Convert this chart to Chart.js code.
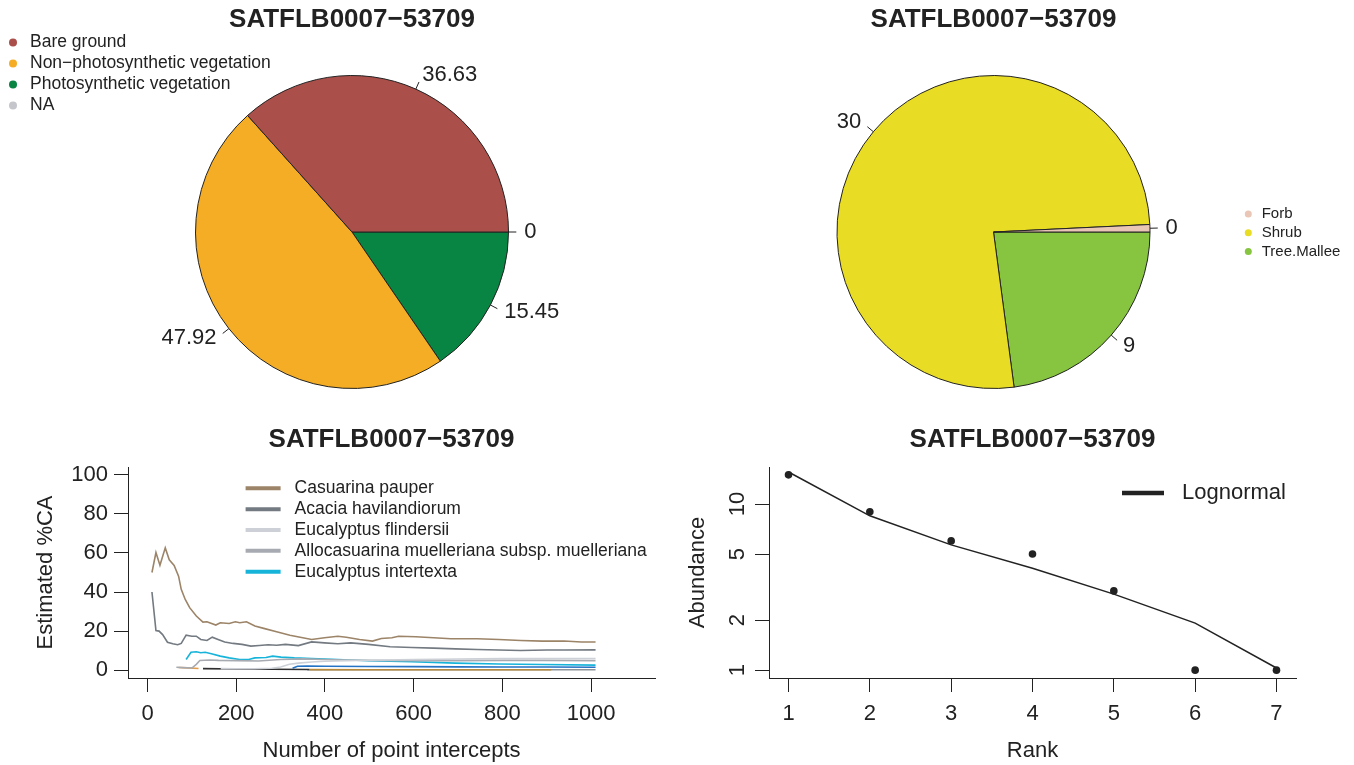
<!DOCTYPE html>
<html>
<head>
<meta charset="utf-8">
<title>SATFLB0007-53709</title>
<script src="https://cdn.jsdelivr.net/npm/chart.js@4.4.1/dist/chart.umd.min.js"></script>
<style>
  body { margin: 0; background: #fff; }
  #wrap { position: relative; width: 1354px; height: 765px; }
  #wrap canvas { position: absolute; }
</style>
</head>
<body>
<div id="wrap">
  <canvas id="coverPie" width="677" height="400" style="left:0;top:0"></canvas>
  <canvas id="formPie" width="677" height="400" style="left:677px;top:0"></canvas>
  <canvas id="accum" width="677" height="365" style="left:0;top:400px"></canvas>
  <canvas id="rad" width="677" height="365" style="left:677px;top:400px"></canvas>
</div>
<script>
const siteName = "SATFLB0007\u221253709";

// fractional cover (top left)
const coverLabels = ["Bare ground", "Non\u2212photosynthetic vegetation", "Photosynthetic vegetation", "NA"];
const coverValues = [36.63, 47.92, 15.45, 0];
const coverColors = ["#ab4f4a", "#f5ad25", "#088443", "#c4c6cb"];

// growth forms (top right)
const formLabels = ["Forb", "Shrub", "Tree.Mallee"];
const formValues = [0.3, 30, 9];
const formColors = ["#e9c6b6", "#e9dc24", "#87c541"];

// species accumulation (bottom left)
const pointTicks = [0, 200, 400, 600, 800, 1000];
const caTicks = [0, 20, 40, 60, 80, 100];
const speciesNames = ["Casuarina pauper", "Acacia havilandiorum", "Eucalyptus flindersii",
  "Allocasuarina muelleriana subsp. muelleriana", "Eucalyptus intertexta"];
const speciesColors = ["#9c8468", "#737a81", "#cdd1d7", "#a7abb1", "#17b4da"];

const casuarinaX = [10, 19, 28, 40, 49, 60, 70, 76, 85, 95, 110, 125, 134, 154, 164, 184, 198, 208, 223, 242, 262, 291, 321, 350, 370, 399, 429, 448, 478, 507, 527, 551, 566, 605, 645, 684, 743, 792, 841, 890, 939, 978, 1010];
const casuarinaY = [50, 60.2, 53.7, 62.6, 56.5, 53.6, 48.1, 41.4, 36.2, 32, 27.7, 24.6, 24.8, 23.1, 24.3, 23.9, 24.8, 24.3, 24.8, 22.6, 21.4, 19.7, 17.9, 16.6, 15.7, 16.6, 17.4, 16.9, 15.7, 14.9, 16.2, 16.6, 17.4, 17.1, 16.6, 16.1, 16.1, 15.7, 15.2, 14.9, 14.9, 14.4, 14.4];

const acaciaX = [10, 19, 26, 34, 45, 57, 68, 76, 87, 100, 110, 120, 134, 146, 159, 174, 193, 213, 233, 252, 272, 291, 311, 340, 370, 399, 429, 458, 498, 547, 596, 645, 694, 743, 792, 841, 900, 939, 1010];
const acaciaY = [40, 20.3, 20, 18.2, 14.3, 13.5, 13, 13.7, 17.9, 17.4, 17.4, 15.7, 15.2, 16.9, 15.7, 14.4, 13.7, 13.2, 12.3, 12.6, 13, 12.8, 13.2, 12.6, 14.5, 14, 13.5, 14, 13.2, 12, 11.6, 11.3, 10.9, 10.6, 10.3, 10.1, 10.3, 10.3, 10.4];

const flindersiiX = [165, 200, 240, 280, 300, 320, 340, 370, 400, 450, 500, 600, 700, 800, 900, 1010];
const flindersiiY = [0.8, 0.7, 0.7, 1.0, 1.6, 3.0, 3.6, 4.2, 4.6, 4.9, 5.1, 5.4, 5.7, 5.9, 6.0, 6.0];

const alloX = [65, 80, 100, 110, 118, 140, 160, 200, 250, 300, 350, 400, 450, 500, 600, 700, 800, 900, 1010];
const alloY = [1.5, 1.3, 1.1, 3.0, 5.0, 5.2, 5.0, 4.9, 4.7, 5.5, 5.8, 5.5, 5.2, 5.0, 4.8, 4.9, 5.0, 5.0, 4.9];

const intertextaX = [87, 98, 110, 120, 130, 144, 164, 184, 208, 228, 242, 267, 282, 301, 331, 370, 429, 498, 596, 694, 792, 890, 1010];
const intertextaY = [5.5, 9.2, 9.4, 8.9, 9.2, 8.4, 7.2, 6.3, 5.5, 5.5, 6.3, 6.5, 7.2, 6.7, 6.3, 6.0, 5.5, 4.8, 4.3, 3.6, 3.2, 2.9, 2.6];

// species not named in the legend
const blueX = [327, 338, 360, 400, 500, 600, 700, 800, 900, 1010];
const blueY = [1.0, 2.0, 2.1, 2.0, 1.9, 1.8, 1.7, 1.6, 1.6, 1.5];
const goldX = [365, 500, 700, 910];
const goldY = [0.3, 0.25, 0.2, 0.2];
const blackX = [125, 200, 280, 365];
const blackY = [0.8, 0.6, 0.45, 0.35];
const orangeX = [70, 90, 115];
const orangeY = [1.4, 1.2, 0.9];
const greyX = [360, 600, 1010];
const greyY = [0.2, 0.2, 0.2];

// rank abundance (bottom right)
const ranks = [1, 2, 3, 4, 5, 6, 7];
const abundance = [15, 9, 6, 5, 3, 1, 1];
const lognormalFit = [15.6, 8.5, 5.68, 4.11, 2.87, 1.92, 1.03];
const abundTicks = [1, 2, 5, 10];

const FONT = "'Liberation Sans', Arial, Helvetica, sans-serif";
const INK = "#222";
Chart.defaults.font.family = FONT;
Chart.defaults.color = INK;

function pieLabels(decimals) {
  return {
    id: "pieLabels",
    afterDatasetsDraw(chart) {
      const ctx = chart.ctx;
      const meta = chart.getDatasetMeta(0);
      const vals = chart.data.datasets[0].data;
      const f = Math.pow(10, decimals);
      ctx.save();
      ctx.font = "22px " + FONT;
      ctx.fillStyle = INK;
      ctx.strokeStyle = INK;
      ctx.lineWidth = 1;
      ctx.textBaseline = "middle";
      meta.data.forEach((arc, i) => {
        const p = arc.getProps(["x", "y", "startAngle", "endAngle", "outerRadius"], true);
        const mid = (p.startAngle + p.endAngle) / 2;
        const c = Math.cos(mid), s = Math.sin(mid), r = p.outerRadius;
        ctx.beginPath();
        ctx.moveTo(p.x + c * r, p.y + s * r);
        ctx.lineTo(p.x + c * r * 1.05, p.y + s * r * 1.05);
        ctx.stroke();
        ctx.textAlign = c < 0 ? "right" : "left";
        ctx.fillText(String(Math.round(vals[i] * f) / f), p.x + c * r * 1.1, p.y + s * r * 1.1);
      });
      ctx.restore();
    }
  };
}

function keyBox(entries, o) {
  return {
    id: "keyBox",
    afterDraw(chart) {
      const ctx = chart.ctx;
      ctx.save();
      ctx.font = o.size + "px " + FONT;
      ctx.textBaseline = "middle";
      ctx.textAlign = "left";
      entries.forEach((e, i) => {
        const y = o.y + i * o.gap;
        if (o.line) {
          ctx.strokeStyle = e.color;
          ctx.lineWidth = o.line;
          ctx.beginPath();
          ctx.moveTo(o.x, y);
          ctx.lineTo(o.x + o.len, y);
          ctx.stroke();
        } else {
          ctx.fillStyle = e.color;
          ctx.beginPath();
          ctx.arc(o.x, y, o.r, 0, Math.PI * 2);
          ctx.fill();
        }
        ctx.fillStyle = INK;
        ctx.fillText(e.text, o.textX, y);
      });
      ctx.restore();
    }
  };
}

function titleOpts(top, bottom) {
  return {
    display: true, text: siteName, color: INK, fullSize: false,
    font: { family: FONT, size: 26, weight: "bold", lineHeight: 1.2 },
    padding: { top: top, bottom: bottom }
  };
}

// R draws pies counter-clockwise from 3 o'clock; Chart.js goes clockwise,
// so feed the slices reversed and start at 90 degrees.
function pieConfig(labels, values, colors, pad, decimals, key) {
  return {
    type: "pie",
    data: {
      labels: labels.slice().reverse(),
      datasets: [{
        data: values.slice().reverse(),
        backgroundColor: colors.slice().reverse(),
        borderColor: INK,
        borderWidth: 1
      }]
    },
    options: {
      responsive: false,
      animation: false,
      rotation: 90,
      layout: { padding: pad },
      plugins: {
        legend: { display: false },
        tooltip: { enabled: false },
        title: titleOpts(4.4, 39.4)
      }
    },
    plugins: [pieLabels(decimals), key]
  };
}

new Chart(document.getElementById("coverPie"), pieConfig(
  coverLabels, coverValues, coverColors,
  { left: 195, right: 168, top: 0, bottom: 11 }, 2,
  keyBox(coverLabels.map((t, i) => ({ text: t, color: coverColors[i] })),
    { x: 13, y: 42.5, gap: 21, r: 4, textX: 30, size: 17.5 })
));

new Chart(document.getElementById("formPie"), pieConfig(
  formLabels, formValues, formColors,
  { left: 159.5, right: 203.5, top: 0, bottom: 11 }, 0,
  keyBox(formLabels.map((t, i) => ({ text: t, color: formColors[i] })),
    { x: 571.3, y: 214, gap: 18.8, r: 3.5, textX: 584.7, size: 15 })
));

function axisX(min, max, tickVals, title) {
  return {
    type: "linear", min: min, max: max,
    afterBuildTicks: s => { s.ticks = tickVals.map(v => ({ value: v })); },
    afterFit: s => { s.height = 87; },
    grid: { display: true, drawOnChartArea: false, drawTicks: true, tickLength: 14, tickColor: INK, color: INK },
    border: { display: true, color: INK, width: 1 },
    ticks: { color: INK, font: { size: 22 }, padding: 8.8, maxRotation: 0, autoSkip: false, callback: v => String(v) },
    title: { display: true, text: title, color: INK, font: { size: 22, lineHeight: 1.2 }, padding: { top: 0, bottom: 0.4 } }
  };
}

const lineSets = [
  { label: speciesNames[0], color: speciesColors[0], xs: casuarinaX, ys: casuarinaY },
  { label: speciesNames[1], color: speciesColors[1], xs: acaciaX, ys: acaciaY },
  { label: speciesNames[2], color: speciesColors[2], xs: flindersiiX, ys: flindersiiY },
  { label: speciesNames[3], color: speciesColors[3], xs: alloX, ys: alloY },
  { label: speciesNames[4], color: speciesColors[4], xs: intertextaX, ys: intertextaY },
  { label: "other 1", color: "#2372c4", xs: blueX, ys: blueY },
  { label: "other 2", color: "#b8893a", xs: goldX, ys: goldY },
  { label: "other 3", color: "#2f2f2f", xs: blackX, ys: blackY },
  { label: "other 4", color: "#e39a4a", xs: orangeX, ys: orangeY },
  { label: "other 5", color: "#8e9399", xs: greyX, ys: greyY }
];

new Chart(document.getElementById("accum"), {
  type: "line",
  data: {
    datasets: lineSets.map(s => ({
      label: s.label,
      data: s.xs.map((x, i) => ({ x: x, y: s.ys[i] })),
      borderColor: s.color,
      borderWidth: 1.6,
      pointRadius: 0,
      tension: 0,
      fill: false
    }))
  },
  options: {
    responsive: false,
    animation: false,
    layout: { padding: { left: 0, right: 22, top: 0, bottom: 0 } },
    scales: {
      x: axisX(-44, 1144, pointTicks, "Number of point intercepts"),
      y: {
        type: "linear", min: -4, max: 104,
        afterBuildTicks: s => { s.ticks = caTicks.map(v => ({ value: v })); },
        afterFit: s => { s.width = 128; },
        grid: { display: true, drawOnChartArea: false, drawTicks: true, tickLength: 14, tickColor: INK, color: INK },
        border: { display: true, color: INK, width: 1 },
        ticks: { color: INK, font: { size: 22 }, padding: 6, autoSkip: false, callback: v => String(v) },
        title: { display: true, text: "Estimated %CA", color: INK, font: { size: 22, lineHeight: 1.2 }, padding: { top: 32.4, bottom: 0 } }
      }
    },
    plugins: {
      legend: { display: false },
      tooltip: { enabled: false },
      title: titleOpts(24.4, 11.4)
    }
  },
  plugins: [keyBox(speciesNames.map((t, i) => ({ text: t, color: speciesColors[i] })),
    { x: 245.6, y: 88.3, gap: 20.85, line: 4, len: 35, textX: 294.6, size: 17.5 })]
});

new Chart(document.getElementById("rad"), {
  type: "line",
  data: {
    datasets: [
      {
        label: "Observed",
        data: ranks.map((r, i) => ({ x: r, y: abundance[i] })),
        showLine: false,
        pointRadius: 3.8,
        pointBackgroundColor: INK,
        pointBorderWidth: 0
      },
      {
        label: "Lognormal",
        data: ranks.map((r, i) => ({ x: r, y: lognormalFit[i] })),
        borderColor: INK,
        borderWidth: 1.5,
        pointRadius: 0,
        tension: 0
      }
    ]
  },
  options: {
    responsive: false,
    animation: false,
    layout: { padding: { left: 0, right: 58, top: 0, bottom: 0 } },
    scales: {
      x: axisX(0.76, 7.24, ranks, "Rank"),
      y: {
        type: "logarithmic", min: 0.897, max: 16.72,
        afterBuildTicks: s => { s.ticks = abundTicks.map(v => ({ value: v })); },
        afterFit: s => { s.width = 92; },
        grid: { display: true, drawOnChartArea: false, drawTicks: true, tickLength: 14, tickColor: INK, color: INK },
        border: { display: true, color: INK, width: 1 },
        ticks: {
          color: INK, font: { size: 22 }, padding: 4.8, autoSkip: false,
          minRotation: 90, maxRotation: 90, crossAlign: "center",
          callback: v => String(v)
        },
        title: { display: true, text: "Abundance", color: INK, font: { size: 22, lineHeight: 1.2 }, padding: { top: 7.4, bottom: 0 } }
      }
    },
    plugins: {
      legend: { display: false },
      tooltip: { enabled: false },
      title: titleOpts(24.4, 11.4)
    }
  },
  plugins: [keyBox([{ text: "Lognormal", color: INK }],
    { x: 445, y: 93, gap: 0, line: 4.5, len: 42, textX: 505, size: 22 })]
});
</script>
</body>
</html>
